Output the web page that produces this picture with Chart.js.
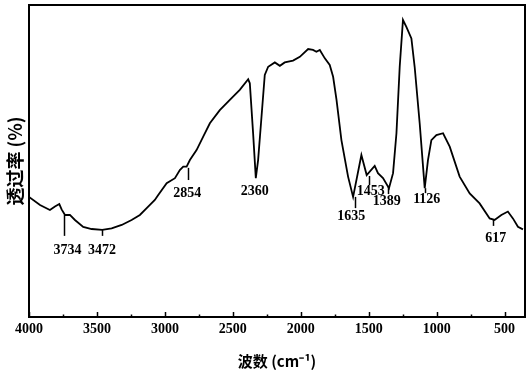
<!DOCTYPE html>
<html><head><meta charset="utf-8">
<script src="https://cdn.jsdelivr.net/npm/chart.js@4/dist/chart.umd.min.js"></script>
<style>html,body{margin:0;padding:0;background:#fff}</style>
</head><body>
<canvas id="c" width="529" height="370"></canvas>
<script>
// Wavenumber (cm-1) and transmittance (arbitrary %)
const wavenumbers = [4000,3919,3846,3809,3777,3760,3735,3699,3662,3601,3539,3461,3392,3318,3245,3184,3123,3074,3049,2987,2926,2890,2865,2840,2816,2767,2718,2669,2596,2522,2449,2387,2375,2351,2331,2314,2289,2265,2240,2191,2154,2118,2057,2007,1946,1910,1885,1860,1823,1787,1762,1737,1701,1652,1615,1554,1515,1456,1432,1395,1351,1321,1296,1272,1248,1223,1186,1162,1125,1088,1064,1039,1002,953,904,831,757,684,610,574,524,476,439,402,365];
const transmittance = [38.5,35.9,34.3,35.4,36.2,34.5,32.7,32.7,31.1,28.9,28.2,27.9,28.4,29.5,31.1,32.7,35.4,37.5,39.1,42.9,44.5,47.1,48.2,48.2,50.3,53.5,57.8,62.1,66.3,69.6,72.8,76.2,74.9,59.0,44.5,50.3,64.2,77.6,80.2,81.6,80.5,81.6,82.2,83.4,85.9,85.6,85.0,85.6,82.9,80.8,77.0,69.6,56.7,45.0,38.5,51.9,45.5,48.4,46.1,44.5,41.3,46.1,58.9,80.2,95.2,93.0,89.3,80.2,62.1,41.3,50.3,56.7,58.3,58.9,54.6,45.0,39.6,36.4,31.6,31.1,32.7,33.8,31.6,28.9,28.1];

// X axis ticks
const xTickValues = [4000,3750,3500,3250,3000,2750,2500,2250,2000,1750,1500,1250,1000,750,500];
const xTickLabels = ['4000','','3500','','3000','','2500','','2000','','1500','','1000','','500'];

// Peak annotations
const peakLabels      = ['3734','3472','2854','2360','1635','1453','1389','1126','617'];
const peakMarkerWn    = [3740, 3465, 2833, null, 1603, 1496, 1358, 1088, 586];
const peakMarkerTop   = [32.7, 28.2, 47.8, null, 38.5, 45.2, 41.7, 41.3, 31.1];
const peakMarkerBot   = [26.0, 26.0, 43.9, null, 34.9, 42.3, 39.4, 39.7, 29.2];
const peakLabelWn     = [3717, 3463, 2835, 2338, 1629, 1485, 1368, 1073, 566];
const peakLabelT      = [21.5, 21.5, 39.7, 40.4, 32.1, 40.4, 36.9, 37.8, 25.3];

const points = wavenumbers.map((w, i) => ({x: w, y: transmittance[i]}));

const serif = '"Liberation Serif", "Times New Roman", serif';
const cjk = '"Noto Sans CJK SC", "Liberation Serif", serif';

const framePlugin = {
  id: 'frame',
  afterDraw(chart) {
    const {ctx, chartArea: a, scales} = chart;
    const xs = scales.x;
    ctx.save();
    ctx.strokeStyle = '#000';
    ctx.lineWidth = 2;
    ctx.strokeRect(a.left, a.top, a.right - a.left, a.bottom - a.top);
    ctx.lineWidth = 1.5;
    xTickValues.forEach((v, i) => {
      const px = Math.round(xs.getPixelForValue(v)) + 0.5;
      const len = xTickLabels[i] ? 5 : 2.5;
      ctx.beginPath();
      ctx.moveTo(px, a.bottom);
      ctx.lineTo(px, a.bottom - len);
      ctx.stroke();
    });
    ctx.restore();
  }
};

const peakPlugin = {
  id: 'peaks',
  afterDatasetsDraw(chart) {
    const {ctx, scales} = chart;
    const xs = scales.x, ys = scales.y;
    ctx.save();
    ctx.strokeStyle = '#000';
    ctx.fillStyle = '#000';
    ctx.lineWidth = 1.5;
    ctx.font = '600 14px ' + serif;
    ctx.textAlign = 'center';
    ctx.textBaseline = 'middle';
    peakLabels.forEach((lab, i) => {
      if (peakMarkerWn[i] !== null) {
        const px = Math.round(xs.getPixelForValue(peakMarkerWn[i])) + 0.5;
        ctx.beginPath();
        ctx.moveTo(px, ys.getPixelForValue(peakMarkerTop[i]));
        ctx.lineTo(px, ys.getPixelForValue(peakMarkerBot[i]));
        ctx.stroke();
      }
      ctx.fillText(lab, xs.getPixelForValue(peakLabelWn[i]), ys.getPixelForValue(peakLabelT[i]));
    });
    ctx.restore();
  }
};

new Chart(document.getElementById('c'), {
  type: 'line',
  data: {
    datasets: [{
      data: points,
      borderColor: '#000',
      borderWidth: 1.8,
      pointRadius: 0,
      tension: 0,
      fill: false
    }]
  },
  options: {
    responsive: false,
    devicePixelRatio: 1,
    animation: false,
    layout: {padding: {top: 5, right: 4, left: 0, bottom: 0}},
    plugins: {legend: {display: false}, tooltip: {enabled: false}},
    scales: {
      x: {
        type: 'linear',
        reverse: true,
        min: 350,
        max: 4000,
        border: {display: false},
        grid: {display: false, drawTicks: false, tickLength: 0},
        afterBuildTicks(scale) {
          scale.ticks = xTickValues.map(v => ({value: v}));
        },
        afterFit(scale) { scale.height = 53; },
        ticks: {
          autoSkip: false,
          maxRotation: 0,
          padding: 4,
          color: '#000',
          font: {family: serif, size: 14, weight: '600'},
          callback(value) {
            const i = xTickValues.indexOf(value);
            return i >= 0 ? xTickLabels[i] : '';
          }
        },
        title: {
          display: true,
          text: '波数 (cm⁻¹)',
          color: '#000',
          font: {family: cjk, size: 15, weight: 'bold'},
          padding: {top: 4, bottom: 0}
        }
      },
      y: {
        min: 0,
        max: 100,
        border: {display: false},
        grid: {display: false, drawTicks: false, tickLength: 0},
        ticks: {display: false},
        afterFit(scale) { scale.width = 29; },
        title: {
          display: true,
          text: '透过率 (%)',
          color: '#000',
          font: {family: cjk, size: 18, weight: 'bold'},
          padding: {top: 4, bottom: 0}
        }
      }
    }
  },
  plugins: [framePlugin, peakPlugin]
});
</script>
</body></html>
